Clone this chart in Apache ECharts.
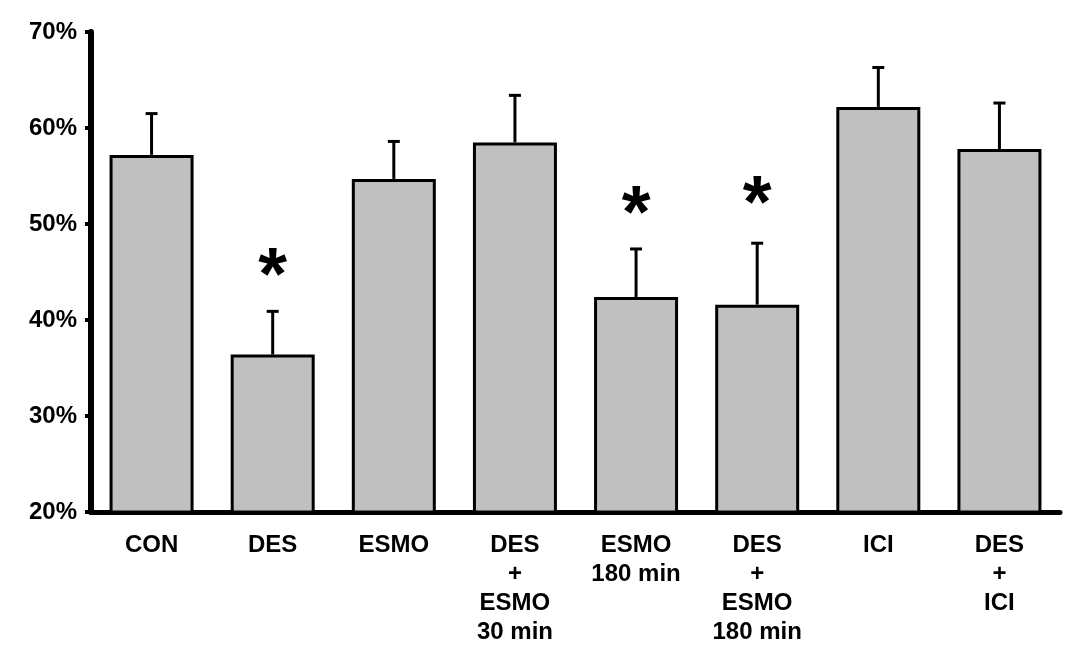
<!DOCTYPE html>
<html>
<head>
<meta charset="utf-8">
<script src="https://cdn.jsdelivr.net/npm/echarts@6/dist/echarts.min.js"></script>
<style>html,body{margin:0;padding:0;background:#fff}#c{width:1070px;height:647px}</style>
</head>
<body>
<div id="c"></div>
<script>
const categories = ['CON', 'DES', 'ESMO', 'DES\n+\nESMO\n30 min', 'ESMO\n180 min', 'DES\n+\nESMO\n180 min', 'ICI', 'DES\n+\nICI'];
const means = [57.2, 36.4, 54.7, 58.5, 42.4, 41.6, 62.2, 57.8];
const errTops = [61.5, 40.9, 58.6, 63.4, 47.4, 48.0, 66.3, 62.6];
const starAt = [null, 45.9, null, null, 52.3, 53.4, null, null];
const yTicks = [20, 30, 40, 50, 60, 70];

const chart = echarts.init(document.getElementById('c'), null, {renderer: 'canvas'});
const font = 'Liberation Sans, Arial, Helvetica, sans-serif';
chart.setOption({
  animation: false,
  backgroundColor: '#fff',
  grid: {left: 91, right: 10, top: 32, bottom: 135, containLabel: false},
  xAxis: {
    type: 'category',
    data: categories,
    axisLine: {show: true, lineStyle: {color: '#000', width: 5}},
    axisTick: {show: false},
    axisLabel: {color: '#000', fontFamily: font, fontWeight: 'bold', fontSize: 24, lineHeight: 29, margin: 19, interval: 0}
  },
  yAxis: {
    type: 'value',
    min: yTicks[0], max: yTicks[yTicks.length - 1], interval: 10,
    splitLine: {show: false},
    axisLine: {show: true, lineStyle: {color: '#000', width: 6}},
    axisTick: {show: true, length: 6, lineStyle: {color: '#000', width: 4}},
    axisLabel: {color: '#000', fontFamily: font, fontWeight: 'bold', fontSize: 24, margin: 14, formatter: v => v + '%'}
  },
  series: [
    {
      type: 'bar',
      data: means,
      barWidth: 84,
      itemStyle: {color: '#c0c0c0', borderColor: '#000', borderWidth: 3},
      z: 2
    },
    {
      type: 'custom',
      z: 3,
      data: means.map((m, i) => [i, m, errTops[i]]),
      renderItem: function (params, api) {
        const i = api.value(0);
        const p0 = api.coord([i, api.value(1)]);
        const p1 = api.coord([i, api.value(2)]);
        const hw = 6;
        return {
          type: 'group',
          children: [
            {type: 'line', shape: {x1: p0[0], y1: p0[1], x2: p1[0], y2: p1[1]}, style: {stroke: '#000', lineWidth: 3}},
            {type: 'line', shape: {x1: p1[0] - hw, y1: p1[1], x2: p1[0] + hw, y2: p1[1]}, style: {stroke: '#000', lineWidth: 3}}
          ]
        };
      }
    },
    {
      type: 'custom',
      z: 4,
      data: starAt.map((s, i) => s == null ? null : [i, s]).filter(d => d),
      renderItem: function (params, api) {
        const p = api.coord([api.value(0), api.value(1)]);
        return {
          type: 'text',
          style: {
            text: '*', x: p[0], y: p[1] - 22,
            fill: '#000', font: 'bold 74px ' + font,
            align: 'center', verticalAlign: 'top'
          }
        };
      }
    }
  ]
});
</script>
</body>
</html>
